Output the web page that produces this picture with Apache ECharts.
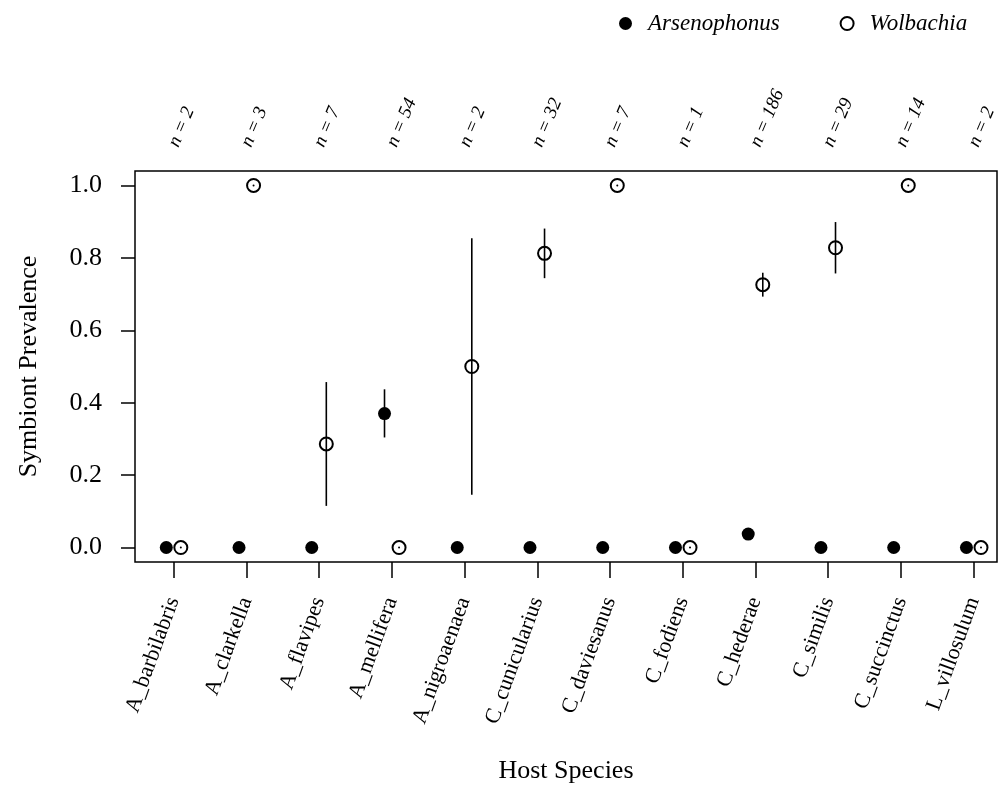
<!DOCTYPE html>
<html>
<head>
<meta charset="utf-8">
<script src="https://cdn.jsdelivr.net/npm/echarts@6/dist/echarts.min.js"></script>
<style>
html,body{margin:0;padding:0;background:#fff;}
#chart{width:998px;height:794px;}
</style>
</head>
<body>
<div id="chart"></div>
<script>
// ---- data ----
var categories = ['A_barbilabris','A_clarkella','A_flavipes','A_mellifera','A_nigroaenaea','C_cunicularius','C_daviesanus','C_fodiens','C_hederae','C_similis','C_succinctus','L_villosulum'];
var sampleSizes = [2, 3, 7, 54, 2, 32, 7, 1, 186, 29, 14, 2];
var arsenophonus = [0, 0, 0, 0.37, 0, 0, 0, 0, 0.037, 0, 0, 0];
var arsLow       = [0, 0, 0, 0.304, 0, 0, 0, 0, 0.024, 0, 0, 0];
var arsHigh      = [0, 0, 0, 0.437, 0, 0, 0, 0, 0.051, 0, 0, 0];
var wolbachia    = [0, 1, 0.286, 0, 0.5, 0.8125, 1, 0, 0.726, 0.828, 1, 0];
var wolLow       = [0, 1, 0.115, 0, 0.146, 0.744, 1, 0, 0.693, 0.757, 1, 0];
var wolHigh      = [0, 1, 0.457, 0, 0.854, 0.881, 1, 0, 0.759, 0.899, 1, 0];
var yTicks = [0, 0.2, 0.4, 0.6, 0.8, 1.0];

var FONT = '"Liberation Serif", "DejaVu Serif", serif';
var catPos = categories.map(function (c, i) { return i + 1; });
var OFF = 0.1;

var arsData = arsenophonus.map(function (v, i) { return [catPos[i] - OFF, v]; });
var wolData = wolbachia.map(function (v, i) { return [catPos[i] + OFF, v]; });
var arsErr = arsLow.map(function (l, i) { return [catPos[i] - OFF, l, arsHigh[i]]; });
var wolErr = wolLow.map(function (l, i) { return [catPos[i] + OFF, l, wolHigh[i]]; });

function renderErr(params, api) {
  var x = api.value(0);
  var p1 = api.coord([x, api.value(1)]);
  var p2 = api.coord([x, api.value(2)]);
  if (Math.abs(p1[1] - p2[1]) < 0.5) {
    return { type: 'circle', shape: { cx: p1[0], cy: p1[1], r: 1 }, style: { fill: '#000' } };
  }
  return {
    type: 'line',
    shape: { x1: p1[0], y1: p1[1], x2: p2[0], y2: p2[1] },
    style: { stroke: '#000', lineWidth: 1.6 }
  };
}

var chart = echarts.init(document.getElementById('chart'), null, { renderer: 'canvas' });
chart.setOption({
  animation: false,
  backgroundColor: '#fff',
  textStyle: { fontFamily: FONT },
  legend: {
    left: 614, top: 7,
    itemWidth: 13, itemHeight: 13, itemGap: 60,
    textStyle: { fontFamily: FONT, fontStyle: 'italic', fontSize: 23, color: '#000', padding: [0, 0, 0, 11] },
    data: [
      { name: 'Arsenophonus', icon: 'circle' },
      { name: 'Wolbachia', icon: 'emptyCircle' }
    ]
  },
  grid: {
    left: 135, top: 171, right: 1, bottom: 232,
    containLabel: false, outerBoundsMode: 'none',
    show: true, borderColor: '#000', borderWidth: 1.5, backgroundColor: 'transparent'
  },
  xAxis: [{
    type: 'value', min: 0.47, max: 12.32, position: 'bottom',
    name: 'Host Species', nameLocation: 'middle', nameGap: 196,
    nameTextStyle: { fontFamily: FONT, fontSize: 26, color: '#000' },
    axisLine: { show: false, onZero: false },
    splitLine: { show: false },
    axisTick: { show: true, length: 16, lineStyle: { color: '#000', width: 1.5 }, customValues: catPos },
    axisLabel: {
      customValues: catPos, rotate: 70, margin: 36,
      fontFamily: FONT, fontSize: 22, color: '#000',
      formatter: function (v) { return categories[Math.round(v) - 1]; }
    }
  }, {
    type: 'value', min: 0.47, max: 12.32, position: 'top',
    axisLine: { show: false, onZero: false },
    splitLine: { show: false },
    axisTick: { show: false },
    axisLabel: {
      customValues: catPos, rotate: -67, margin: 25, padding: [0, 0, 12, 0],
      fontFamily: FONT, fontSize: 19, fontStyle: 'italic', color: '#000',
      formatter: function (v) { return 'n = ' + sampleSizes[Math.round(v) - 1]; }
    }
  }],
  yAxis: {
    type: 'value', min: -0.04, max: 1.04,
    name: 'Symbiont Prevalence', nameLocation: 'middle', nameGap: 93,
    nameTextStyle: { fontFamily: FONT, fontSize: 26, color: '#000' },
    axisLine: { show: false, onZero: false },
    splitLine: { show: false },
    axisTick: { show: true, length: 14, lineStyle: { color: '#000', width: 1.5 }, customValues: yTicks },
    axisLabel: {
      customValues: yTicks, margin: 33,
      fontFamily: FONT, fontSize: 26, color: '#000',
      formatter: function (v) { return v.toFixed(1); }
    }
  },
  series: [
    {
      name: 'Arsenophonus', type: 'scatter', data: arsData,
      symbol: 'circle', symbolSize: 13,
      itemStyle: { color: '#000', opacity: 1 }, z: 2
    },
    {
      name: 'Wolbachia', type: 'scatter', data: wolData,
      symbol: 'emptyCircle', symbolSize: 13,
      itemStyle: { color: '#000', borderWidth: 1.7, opacity: 1 }, z: 2
    },
    {
      type: 'custom', data: arsErr, renderItem: renderErr,
      encode: { x: 0, y: [1, 2] }, z: 5, silent: true
    },
    {
      type: 'custom', data: wolErr, renderItem: renderErr,
      encode: { x: 0, y: [1, 2] }, z: 5, silent: true
    }
  ]
});
</script>
</body>
</html>
